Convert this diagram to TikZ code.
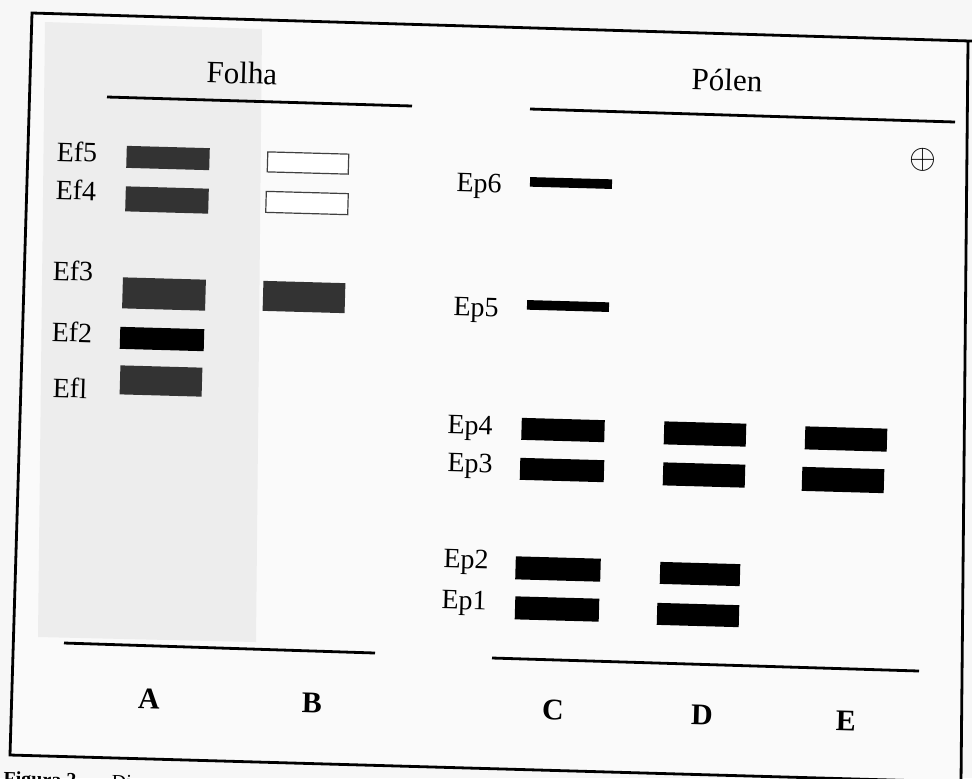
\documentclass[tikz,border=0pt]{standalone}
\usepackage{fontspec}
\setmainfont{Liberation Serif}
\usepackage{amssymb}
\begin{document}
\begin{tikzpicture}[x=0.5pt,y=-0.5pt,
  bar/.style={rectangle,inner sep=0pt,fill=black,rotate=-1.6},
  gbar/.style={bar,fill=black!80},
  obar/.style={bar,fill=white,draw=black!75,line width=0.6pt},
  lbl/.style={font=\fontsize{14}{16}\selectfont,inner sep=0pt,rotate=-1.6},
  head/.style={font=\fontsize{15.5}{18}\selectfont,inner sep=0pt,rotate=-1.6},
  lane/.style={font=\fontsize{15}{17}\selectfont\bfseries,inner sep=0pt,rotate=-1.6},
  rule/.style={line width=1.4pt}]
\useasboundingbox (0,0) rectangle (972,778);
\clip (0,0) rectangle (972,778);
% background and frame
\fill[black!3] (0,0) rectangle (972,778);
\coordinate (ftl) at (32,13); \coordinate (ftr) at (968,41);
\coordinate (fbr) at (961,782); \coordinate (fbl) at (10,755);
\coordinate (ftx) at (990,41.6);
\fill[black!2] (ftl) -- (ftr) -- (fbr) -- (fbl) -- cycle;
\fill[black!7] (45,22) -- (262,29) -- (256,642) -- (38,637) -- cycle;
\draw[line width=1.4pt,line join=miter] (ftx) -- (ftl) -- (fbl) -- (fbr) -- (ftr);
% caption (cut off at the bottom edge)
\node[anchor=base west,inner sep=0pt,font=\fontsize{10}{12}\selectfont,rotate=-1.6] (cap) at (3,785) {\textbf{Figura 2}\; — Di};
% headings
\node[head] (folha) at (242,73) {Folha};
\node[head] (polen) at (727,80) {Pólen};
\coordinate (fl1) at (107,97); \coordinate (fl2) at (412,106);
\coordinate (pl1) at (530,109); \coordinate (pl2) at (955,122);
\draw[rule] (fl1) -- (fl2);
\draw[rule] (pl1) -- (pl2);
% leaf labels
\node[lbl] (ef5) at (77,152) {Ef5};
\node[lbl] (ef4) at (76,190) {Ef4};
\node[lbl] (ef3) at (73,271) {Ef3};
\node[lbl] (ef2) at (72,332) {Ef2};
\node[lbl] (ef1) at (70,388) {Efl};
% leaf bands A
\node[gbar,minimum width=41.5pt,minimum height=11pt] (a5) at (168,158) {};
\node[gbar,minimum width=41.5pt,minimum height=12.5pt] (a4) at (167,200) {};
\node[gbar,minimum width=41.5pt,minimum height=15.5pt] (a3) at (164,294) {};
\node[bar,minimum width=42pt,minimum height=11pt] (a2) at (162,339) {};
\node[gbar,minimum width=41pt,minimum height=14.5pt] (a1) at (161,381) {};
% leaf bands B
\node[obar,minimum width=40.5pt,minimum height=10pt] (b5) at (308,163) {};
\node[obar,minimum width=41pt,minimum height=10.5pt] (b4) at (307,203) {};
\node[gbar,minimum width=41pt,minimum height=15pt] (b3) at (304,297) {};
% pollen labels
\node[lbl] (ep6) at (479,186) {Ep6};
\node[lbl] (ep5) at (476,310) {Ep5};
\node[lbl] (ep4) at (470,428) {Ep4};
\node[lbl] (ep3) at (470,466) {Ep3};
\node[lbl] (ep2) at (466,562) {Ep2};
\node[lbl] (ep1) at (464,603) {Ep1};
\node[inner sep=0pt,font=\fontsize{17}{19}\selectfont] (plus) at (923,160) {$\oplus$};
% pollen lane C
\node[bar,minimum width=41pt,minimum height=4.8pt] (c6) at (571,183) {};
\node[bar,minimum width=41pt,minimum height=4.8pt] (c5) at (568,306) {};
\node[bar,minimum width=41.5pt,minimum height=11pt] (c4) at (563,430) {};
\node[bar,minimum width=42pt,minimum height=11pt] (c3) at (562,470) {};
\node[bar,minimum width=42.5pt,minimum height=11.5pt] (c2) at (558,569) {};
\node[bar,minimum width=42pt,minimum height=11.5pt] (c1) at (557,609) {};
% pollen lane D
\node[bar,minimum width=41pt,minimum height=11.5pt] (d4) at (705,434) {};
\node[bar,minimum width=41pt,minimum height=11.5pt] (d3) at (704,475) {};
\node[bar,minimum width=40pt,minimum height=11pt] (d2) at (700,574) {};
\node[bar,minimum width=41pt,minimum height=11pt] (d1) at (698,615) {};
% pollen lane E
\node[bar,minimum width=41pt,minimum height=11.5pt] (e4) at (846,439) {};
\node[bar,minimum width=41pt,minimum height=12pt] (e3) at (843,480) {};
% bottom rules
\coordinate (bl1) at (64,643); \coordinate (bl2) at (375,653);
\coordinate (br1) at (492,658); \coordinate (br2) at (919,671);
\draw[rule] (bl1) -- (bl2);
\draw[rule] (br1) -- (br2);
% lane letters
\node[lane] (la) at (149,699) {A};
\node[lane] (lb) at (312,703) {B};
\node[lane] (lc) at (553,710) {C};
\node[lane] (ld) at (702,715) {D};
\node[lane] (le) at (846,721) {E};
\end{tikzpicture}
\end{document}
